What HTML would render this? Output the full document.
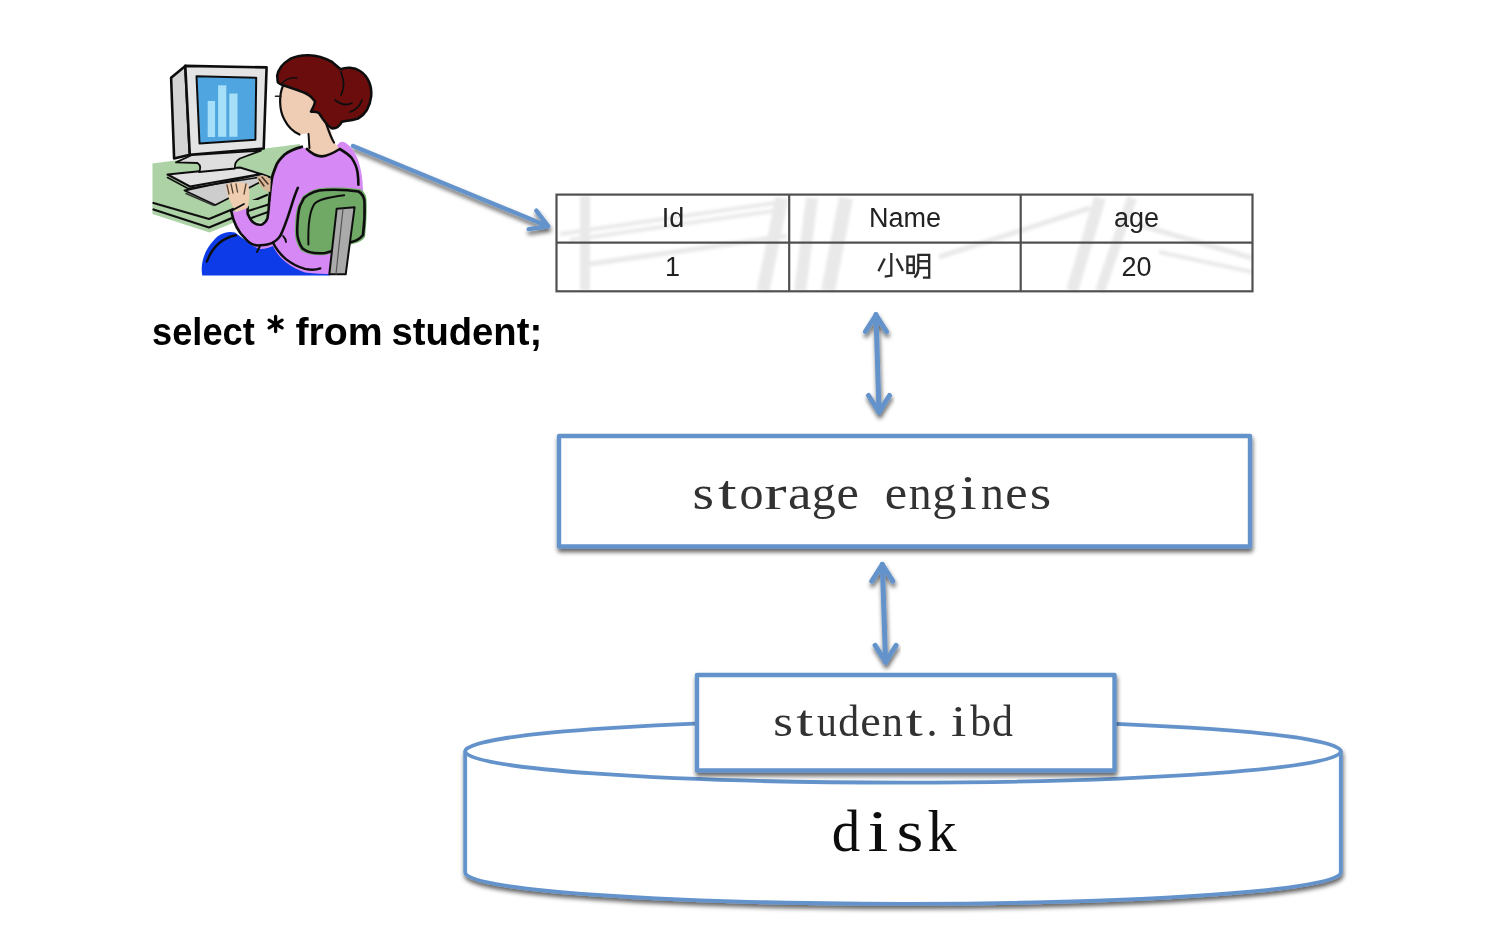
<!DOCTYPE html>
<html><head><meta charset="utf-8"><title>storage</title>
<style>html,body{margin:0;padding:0;background:#fff;}body{width:1508px;height:938px;overflow:hidden;}svg{display:block;}</style>
</head><body>
<svg width="1508" height="938" viewBox="0 0 1508 938"><defs>
<filter id="sh" x="-20%" y="-20%" width="140%" height="160%">
<feDropShadow dx="0.8" dy="3.5" stdDeviation="2" flood-color="#000" flood-opacity="0.6"/>
</filter>
<filter id="blur" x="0" y="0" width="100%" height="100%"><feGaussianBlur stdDeviation="0.55"/></filter>
</defs><g filter="url(#blur)"><rect width="1508" height="938" fill="#fff"/><filter id="wm" x="-10%" y="-10%" width="120%" height="120%"><feGaussianBlur stdDeviation="1.6"/></filter><g stroke="#e2e2e2" stroke-linecap="butt" fill="none" filter="url(#wm)" opacity="0.75"><line x1="585" y1="196" x2="585" y2="290" stroke-width="10"/><line x1="560" y1="234" x2="775" y2="203" stroke-width="4"/><line x1="570" y1="240" x2="780" y2="210" stroke-width="4"/><line x1="590" y1="264" x2="787" y2="236" stroke-width="5"/><line x1="763" y1="291" x2="782" y2="198" stroke-width="13"/><line x1="800" y1="291" x2="812" y2="198" stroke-width="12"/><line x1="828" y1="291" x2="846" y2="198" stroke-width="14"/><line x1="939" y1="257" x2="1090" y2="208" stroke-width="5"/><line x1="1072" y1="291" x2="1100" y2="198" stroke-width="12"/><line x1="1100" y1="291" x2="1132" y2="198" stroke-width="10"/><line x1="1136" y1="224" x2="1252" y2="258" stroke-width="5"/><line x1="1159" y1="252" x2="1252" y2="272" stroke-width="4"/></g><g stroke="#505050" stroke-width="2.2" fill="none"><rect x="556.5" y="194.6" width="696.0" height="96.70000000000002"/><line x1="556.5" y1="242.6" x2="1252.5" y2="242.6"/><line x1="789.2" y1="194.6" x2="789.2" y2="291.3"/><line x1="1020.7" y1="194.6" x2="1020.7" y2="291.3"/></g><g font-family="Liberation Sans" font-size="27" fill="#222" text-anchor="middle"><text x="673" y="227.4">Id</text><text x="905" y="227.4">Name</text><text x="1136.6" y="227.4">age</text><text x="672.5" y="275.5">1</text><text x="1136.6" y="275.5">20</text></g><g fill="none" stroke="#2a2a2a" stroke-width="2.3" stroke-linecap="butt" stroke-linejoin="miter"><path d="M891.3,253.1 V275.6 L884.7,276.6"/><path d="M884.7,258.4 L878.4,271.3"/><path d="M896.6,258.6 L903,270.9"/><rect x="907.4" y="256.6" width="6.4" height="16.4"/><line x1="907.4" y1="265" x2="913.8" y2="265"/><path d="M918.3,270 V254.9 H929.2 V277.6 H922.9"/><path d="M918.3,270 Q917.8,274.5 914.4,277.5"/><line x1="918.3" y1="261.2" x2="929.2" y2="261.2"/><line x1="918.3" y1="268" x2="929.2" y2="268"/></g><g font-family="Liberation Sans" font-weight="bold" font-size="39.5" fill="#000"><text x="0" y="0" transform="translate(152.12,345.2) scale(0.9164,1)">select</text><text x="0" y="0" transform="translate(295.40,345.2) scale(0.9941,1)">from</text><text x="0" y="0" transform="translate(391.45,345.2) scale(0.9674,1)">student;</text></g><g stroke="#000" stroke-width="3.3" stroke-linecap="round"><line x1="275.6" y1="316.5" x2="275.6" y2="331.5"/><line x1="269.1" y1="320.2" x2="282.1" y2="327.8"/><line x1="269.1" y1="327.8" x2="282.1" y2="320.2"/></g><g fill="none" stroke="#6393ca" stroke-width="4.4" stroke-linejoin="round" stroke-linecap="round" filter="url(#sh)"><line x1="353" y1="146" x2="547.3" y2="226.0"/><polyline points="528.7,229.1 548.3,226.4 536.3,210.7"/></g><g fill="none" stroke="#6393ca" stroke-width="5" stroke-linejoin="round" stroke-linecap="round" filter="url(#sh)"><line x1="876" y1="314.5" x2="879" y2="412.5"/><polyline points="865.5,331.5 876,315.0 886.5,331.5"/><polyline points="868.5,395.5 879,412.0 889.5,395.5"/></g><g fill="none" stroke="#6393ca" stroke-width="5" stroke-linejoin="round" stroke-linecap="round" filter="url(#sh)"><line x1="882.3" y1="564.2" x2="885.6" y2="662.4"/><polyline points="871.8,581.2 882.3,564.7 892.8,581.2"/><polyline points="875.1,645.4 885.6,661.9 896.1,645.4"/></g><rect x="559" y="436" width="691" height="110.5" fill="#fff" stroke="#6393ca" stroke-width="4.4" stroke-linejoin="round" filter="url(#sh)"/><g font-family="Liberation Serif" font-size="48" fill="#333" font-weight="normal"><text x="0" y="0" transform="translate(703.2,509) scale(1.150,1)" text-anchor="middle">s</text><text x="0" y="0" transform="translate(727.3,509) scale(1.400,1)" text-anchor="middle">t</text><text x="0" y="0" transform="translate(751.4,509) scale(1.000,1)" text-anchor="middle">o</text><text x="0" y="0" transform="translate(775.5,509) scale(1.400,1)" text-anchor="middle">r</text><text x="0" y="0" transform="translate(799.6,509) scale(1.100,1)" text-anchor="middle">a</text><text x="0" y="0" transform="translate(823.7,509) scale(1.000,1)" text-anchor="middle">g</text><text x="0" y="0" transform="translate(847.8,509) scale(1.050,1)" text-anchor="middle">e</text><text x="0" y="0" transform="translate(896.0,509) scale(1.050,1)" text-anchor="middle">e</text><text x="0" y="0" transform="translate(920.1,509) scale(0.950,1)" text-anchor="middle">n</text><text x="0" y="0" transform="translate(944.2,509) scale(1.000,1)" text-anchor="middle">g</text><text x="0" y="0" transform="translate(968.3,509) scale(1.250,1)" text-anchor="middle">i</text><text x="0" y="0" transform="translate(992.4,509) scale(0.950,1)" text-anchor="middle">n</text><text x="0" y="0" transform="translate(1016.5,509) scale(1.050,1)" text-anchor="middle">e</text><text x="0" y="0" transform="translate(1040.6,509) scale(1.150,1)" text-anchor="middle">s</text></g><path d="M465.2,751.3 V872.5 A437.8,31.3 0 0 0 1340.8,872.5 V751.3 A437.8,31.3 0 0 0 465.2,751.3 Z" fill="#fff" stroke="#6393ca" stroke-width="3.8" filter="url(#sh)"/><path d="M465.2,751.3 A437.8,31.3 0 0 0 1340.8,751.3" fill="none" stroke="#6393ca" stroke-width="3.8"/><g font-family="Liberation Serif" font-size="60" fill="#111" font-weight="normal"><text x="0" y="0" transform="translate(846.0,851.4) scale(0.950,1)" text-anchor="middle">d</text><text x="0" y="0" transform="translate(878.0,851.4) scale(1.250,1)" text-anchor="middle">i</text><text x="0" y="0" transform="translate(910.0,851.4) scale(1.150,1)" text-anchor="middle">s</text><text x="0" y="0" transform="translate(942.0,851.4) scale(0.970,1)" text-anchor="middle">k</text></g><rect x="697" y="675" width="417.5" height="95.5" fill="#fff" stroke="#6393ca" stroke-width="4.4" stroke-linejoin="round" filter="url(#sh)"/><g font-family="Liberation Serif" font-size="44" fill="#333" font-weight="normal"><text x="0" y="0" transform="translate(783.0,736.2) scale(1.150,1)" text-anchor="middle">s</text><text x="0" y="0" transform="translate(804.9,736.2) scale(1.400,1)" text-anchor="middle">t</text><text x="0" y="0" transform="translate(826.8,736.2) scale(0.900,1)" text-anchor="middle">u</text><text x="0" y="0" transform="translate(848.7,736.2) scale(0.950,1)" text-anchor="middle">d</text><text x="0" y="0" transform="translate(870.6,736.2) scale(1.050,1)" text-anchor="middle">e</text><text x="0" y="0" transform="translate(892.5,736.2) scale(0.950,1)" text-anchor="middle">n</text><text x="0" y="0" transform="translate(914.4,736.2) scale(1.400,1)" text-anchor="middle">t</text><text x="0" y="0" transform="translate(931.9,736.2) scale(1.000,1)" text-anchor="middle">.</text><text x="0" y="0" transform="translate(958.7,736.2) scale(1.250,1)" text-anchor="middle">i</text><text x="0" y="0" transform="translate(980.6,736.2) scale(0.950,1)" text-anchor="middle">b</text><text x="0" y="0" transform="translate(1002.5,736.2) scale(0.950,1)" text-anchor="middle">d</text></g><g id="clip" stroke-linejoin="round" stroke-linecap="round">
<!-- desk -->
<polygon points="152.5,163.5 300,144 300,190 267,209 209.5,232.5 152.5,214" fill="#acd2a6"/>
<polyline points="153.5,203 209,219 267,195" fill="none" stroke="#111" stroke-width="2.2"/>
<polyline points="153.5,209.5 209,227.5 267,203.5" fill="none" stroke="#111" stroke-width="2.2"/>
<!-- keyboard -->
<polygon points="184.5,190.5 262,174 270,177 215.4,205" fill="#cdcdcd" stroke="#111" stroke-width="1.8"/>
<line x1="186" y1="193.5" x2="214" y2="205.5" stroke="#333" stroke-width="1.4"/>
<!-- monitor side -->
<polygon points="185.3,65.9 171.1,77.8 174.1,158.4 189.8,154.7" fill="#d4d4d4" stroke="#111" stroke-width="2.6"/>
<!-- monitor front -->
<polygon points="185.3,65.9 266.6,67.4 263.7,148.5 189.8,154.7" fill="#e4e4e4" stroke="#111" stroke-width="2.6"/>
<polygon points="196.5,76.3 256.2,77.8 255.4,139.8 199.5,143.5" fill="#4fa5e0" stroke="#111" stroke-width="2"/>
<rect x="207.7" y="101" width="7.4" height="36" fill="#a6e0f8"/>
<rect x="218.1" y="85.3" width="8.2" height="51.5" fill="#a6e0f8"/>
<rect x="229.3" y="93.5" width="8.2" height="43.3" fill="#a6e0f8"/>
<!-- base plate -->
<path d="M167.5,174.5 L197,171.5 L240,167.5 L261,174 L190,186.5 Z" fill="#e2e2e2" stroke="#111" stroke-width="2"/>
<path d="M167.5,177.5 L188,188.5 L261,177" fill="none" stroke="#111" stroke-width="1.6"/>
<!-- neck -->
<path d="M192,155 L261,150.7 L240,158.5 Q234,162 235,168.5 L199,172 Q202,166 197.5,163 L176,162.4 Z" fill="#dedede" stroke="#111" stroke-width="1.8"/>
<!-- blue seat -->
<path d="M202.2,275.5 C200,262 205,248 217.7,236.2 C224,232 230,231.5 235,232.6 L245,240 L260,244 L275,246 L290,262 L305,268 L330,268 L330,275.5 Z" fill="#0a3ae8"/>
<path d="M206.8,261.6 C212,248 222,238 235.8,235.3" fill="none" stroke="#111" stroke-width="2.4"/>
<!-- purple body -->
<path d="M306.9,149 L301.8,146.8 C293,149 289,151 284.7,154.5 C280,159 277,163 276.2,165.6 C274,171 272.5,175 271.9,178.4 C271,184 270.5,188 270.2,191.2 L269.3,200 C269,206 268.5,212 267.5,218.1 C266,222 264,224 262,224.5 C258,225 255,224 253.9,222.7 C250,219 248,216 247.6,213.6 L247,208 L236,212 L230,210 C232,220 236,230 244,238 C249,244 255,248 260.2,249 C266,249 270,247 272.9,246 C276,252 280,258 285.6,262 C292,267 298,270 305,272.5 C314,274 324,274 332,274 L346,274 L350,245 L364,236 L363,190 C362.5,168 357,150 345,142.5 C342,141 338.5,142 336.5,147 L339.7,149 C335,152 328,156 321.8,156.4 C316,156.4 311,153 306.9,149 Z" fill="#d689f4"/>
<!-- hole (desk visible) -->
<path d="M247.6,200 L247.6,213.6 C250,219 252,222 253.9,222.7 C256,224.5 259,225 262,224.5 C265,223 266.5,221 267.5,218.1 C268.5,212 269,206 269.3,200 Z" fill="#acd2a6"/>
<path d="M250,218.5 L268,212 M248,211 L268.5,204.5" stroke="#111" stroke-width="2" fill="none"/>
<path d="M253,222 C257,224.5 262,224.5 265,222" stroke="#fff" stroke-width="2.5" fill="none"/>
<!-- arm outlines -->
<path d="M231.2,210.9 C233,220 238,232 245.7,239 C250,244 255,246 260.2,245.3 C266,245 270,244 272.9,242.6 C277,240 280,237 281,234.4 C284,228 286,222 287.4,218.1 C291,208 294,196 297.9,187.8" fill="none" stroke="#111" stroke-width="2.6"/>
<path d="M247.6,207 L247.6,213.6 C250,219 252,222 253.9,222.7 C256,224.5 259,225 262,224.5 C265,223 266.5,221 267.5,218.1 C268.5,212 269,206 269.3,200" fill="none" stroke="#111" stroke-width="2.6"/>
<path d="M301.8,146.8 C293,149 289,151 284.7,154.5 C280,159 277,163 276.2,165.6 C274,171 272.5,175 271.9,178.4 C271,184 270.5,188 270.2,191.2 L269.3,200" fill="none" stroke="#111" stroke-width="2.8"/>
<path d="M272.9,242.6 C276,249 280,254 285.6,258.9 C292,264 298,267 305,268.9 C310,270 316,270 320.3,268.4" fill="none" stroke="#111" stroke-width="2.4"/>
<path d="M260,246 L257,252" fill="none" stroke="#111" stroke-width="2"/>
<path d="M283,236 C285,238 286,240 286,242" fill="none" stroke="#111" stroke-width="1.8"/>
<path d="M339.7,149 C345,152 349,155 351.6,157.9 C355,163 357,168 357.6,172.8 C358.3,178 358.4,182 358.4,184.8" fill="none" stroke="#111" stroke-width="2.6"/>
<!-- hands -->
<path d="M225.5,186 C228,182 238,181.5 248,184 C250,190 249.5,200 247.6,208 L236,212 C230,203 227,194 225.5,186 Z" fill="#efcdb0"/>
<path d="M227,185 L229,194 M231,184 L233,193 M236,184 L237.5,192 M246,184 L244,194" stroke="#554433" stroke-width="1.3" fill="none"/>
<path d="M231.2,210.9 L244,204" fill="none" stroke="#111" stroke-width="1.8"/>
<path d="M257,177 C262,174.5 268,176 270.8,180 L270.2,192 C264,191 259,186 257,177 Z" fill="#d8b898"/>
<path d="M259,179 L264,186 M262,177 L268,184" stroke="#443322" stroke-width="1.5" fill="none"/>
<!-- neck/face -->
<path d="M282.9,84 C279,95 279,110 284.2,119.2 C288,127 294,132 299.5,134.5 L308.5,133.3 L308.5,144.8 L306.9,149 C311,153 316,156.4 321.8,156.4 C328,156 335,152 339.7,149 L334.1,142.2 L330,128 L322,114 L318,100 L303.4,88 Z" fill="#efcdb4"/>
<path d="M282.9,86 C279,95 279,110 284.2,119.2 C288,127 294,132 299.5,134.5" fill="none" stroke="#111" stroke-width="2.2"/>
<path d="M308.5,134 C309,139 309,144 309.5,148" fill="none" stroke="#111" stroke-width="2"/>
<path d="M326.4,124.3 C329,132 331,138 334,142.5" fill="none" stroke="#111" stroke-width="2.2"/>
<path d="M306.9,149 C312,154 318,156.4 321.8,156.4 C328,156 335,152 339.7,149" fill="none" stroke="#111" stroke-width="2.6"/>
<path d="M275.5,96.2 L281,96.2" stroke="#222" stroke-width="1.6"/>
<!-- hair -->
<path d="M277.2,75.7 C278,70 282,64 290,59 C300,54 316,53 331.5,61.6 L340.5,69.3 C346,67 354,67 360,71 C368,76 372,86 371.2,96 C370,106 366,114 358,118.5 C350,121 344,121 341.8,121.8 C340,126 336,129 331.5,128.2 C327,126 322,118 318.7,112.8 C316,111.5 312,112 311,111.5 C314,106 315,102 314.9,101.3 C311,96 308,94 303.4,92.3 C295,89 288,87 285.5,86 C282,85 279,84 277.8,82.1 Z" fill="#6c110b" stroke="#111" stroke-width="2.6"/>
<path d="M341,72 C344,80 345,88 341,95 M335,100 C340,104 346,106 352,103 M350,112 C356,110 360,106 362,100" fill="none" stroke="#111" stroke-width="1.8"/>
<path d="M282,84 C284,80 290,77 297,78" fill="none" stroke="#111" stroke-width="1.4"/>
<!-- chair back -->
<path d="M302.4,196.7 C310,190 318,188 324.8,187.8 C338,187 350,187.5 360.6,189.3 C365,192 367,197 366.6,202.7 C367,215 366,228 365,237 C361,242 356,243.5 350.1,244.5 C340,249 332,254 324.8,255 C315,256 306,254 300.9,250.4 C296,244 294.5,236 294.9,229.6 C295,220 296,210 297.9,205.7 Z" fill="#6fa866"/>
<path d="M304,198 C311,192 318,190 325,190 C338,189.5 349,190 358.5,191.5 C363,194 364.5,199 364.5,203 C365,215 364,227 363,235 C359,240 355,241.5 349.5,242.5 C340,247 332,252 325,253 C315,254 307,252 302.5,248.5 C298,242 297,235 297.2,229.6 C297.5,220 298.5,210 300,206 Z" fill="none" stroke="#111" stroke-width="2.6"/>
<path d="M344.2,195.2 C330,197 318,199 314.3,204.2 C309,212 308,230 308.4,244.5" fill="none" stroke="#111" stroke-width="2"/>
<!-- chair post -->
<polygon points="336.7,208.7 354.6,207.2 345.7,274.3 329.3,274.3" fill="#aaaaaa" stroke="#111" stroke-width="2"/>
<line x1="343" y1="209" x2="336" y2="274" stroke="#555" stroke-width="1.2"/>
</g>
</g></svg>
</body></html>
